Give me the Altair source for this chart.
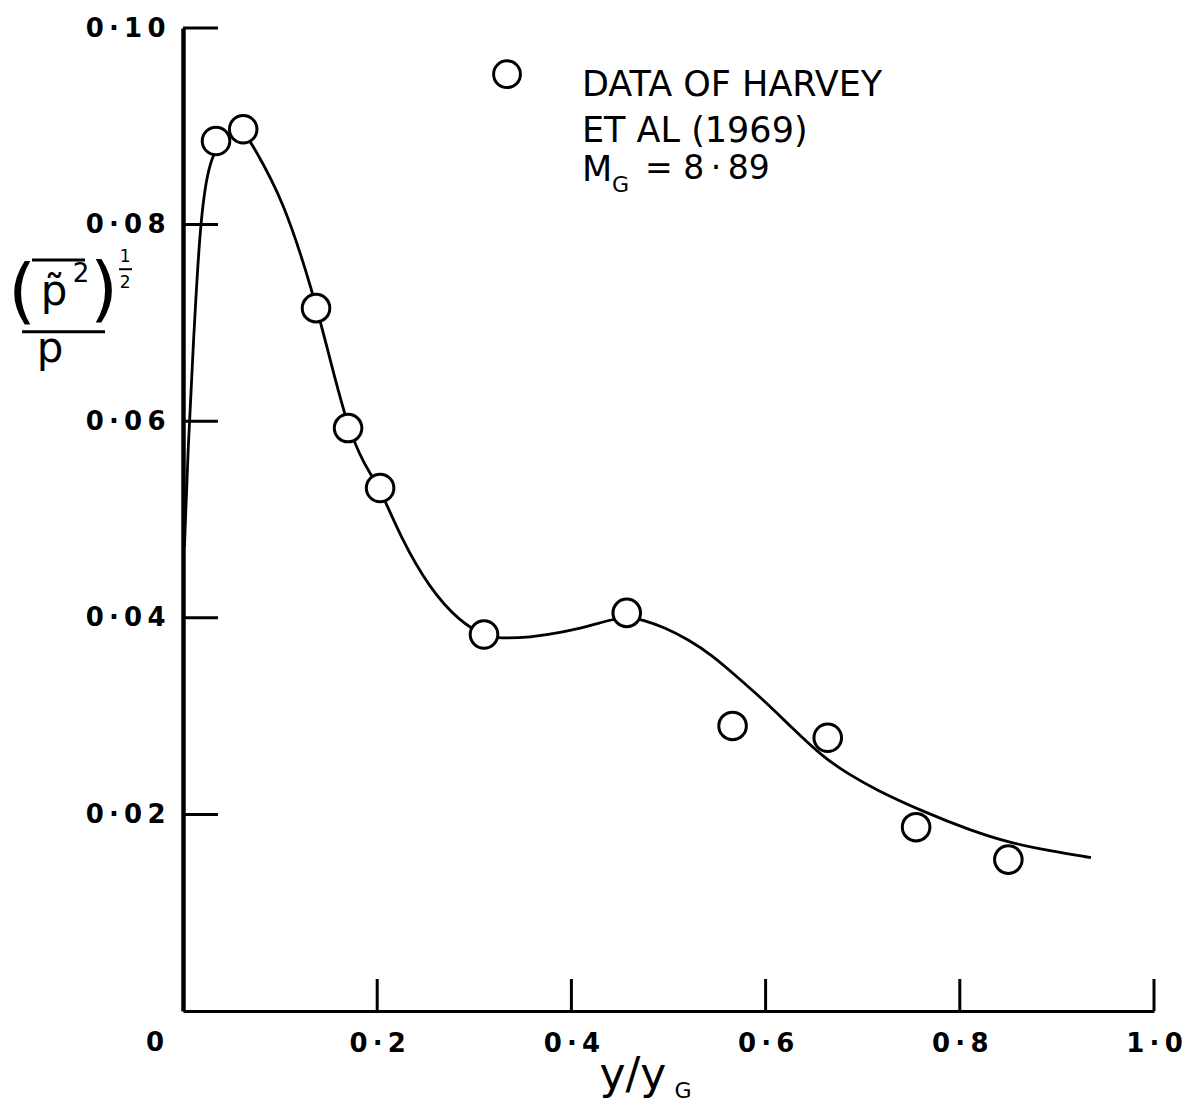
import altair as alt
import pandas as pd

# ---------------- data ----------------
pts_x = [0.034, 0.062, 0.137, 0.170, 0.203, 0.310, 0.457, 0.566, 0.664, 0.755, 0.850]
pts_y = [0.0885, 0.0897, 0.0715, 0.0593, 0.0532, 0.0383, 0.0405, 0.0290, 0.0278, 0.0187, 0.0154]

curve_x = [0.0015, 0.0051, 0.0103, 0.0175, 0.0247, 0.0319, 0.0474, 0.0618, 0.0721, 0.1030,
           0.1339, 0.1514, 0.1699, 0.1864, 0.2029, 0.2235, 0.2544, 0.2853, 0.3100, 0.3254,
           0.3574, 0.3903, 0.4192, 0.4408, 0.4573, 0.4737, 0.4964, 0.5201, 0.5448, 0.5705,
           0.5994, 0.6262, 0.6581, 0.6869, 0.7137, 0.7642, 0.8105, 0.8517, 0.8929, 0.9351]
curve_y = [0.0472, 0.0571, 0.0673, 0.0801, 0.0851, 0.0875, 0.0893, 0.0897, 0.0880, 0.0826,
           0.0731, 0.0663, 0.0593, 0.0556, 0.0532, 0.0483, 0.0429, 0.0396, 0.0382, 0.0379,
           0.0380, 0.0385, 0.0392, 0.0398, 0.0401, 0.0398, 0.0390, 0.0378, 0.0362, 0.0340,
           0.0315, 0.0289, 0.0259, 0.0240, 0.0225, 0.0202, 0.0184, 0.0171, 0.0163, 0.0156]

x_ticks = [0.0, 0.2, 0.4, 0.6, 0.8, 1.0]
x_tick_labels = ["0", "0·2", "0·4", "0·6", "0·8", "1·0"]
y_ticks = [0.02, 0.04, 0.06, 0.08, 0.10]
y_tick_labels = ["0·02", "0·04", "0·06", "0·08", "0·10"]

legend_lines = ["DATA OF HARVEY", "ET AL (1969)", "M", "G", "= 8·89"]
x_title = ["y/y", "G"]

# ---------------- styling ----------------
FONT = "DejaVu Sans"
W, H = 971, 983
THIN = "\u2009"


def hand_spaced(s):
    """Widen the lettering a little, like the hand-drawn labels."""
    return THIN.join(list(s))


def label_expr(ticks, labels, skip_zero=False):
    parts = []
    for t, l in zip(ticks, labels):
        txt = "" if (skip_zero and t == 0) else hand_spaced(l)
        parts.append(f"abs(datum.value - {t}) < 1e-9 ? '{txt}'")
    return " : ".join(parts) + " : ''"


xs = alt.Scale(domain=[0, 1.0], nice=False, zero=False)
ys = alt.Scale(domain=[0, 0.10], nice=False, zero=False)

x_axis = alt.Axis(values=x_ticks, labelExpr=label_expr(x_ticks, x_tick_labels, True),
                  title=None, grid=False, ticks=False, tickSize=0,
                  domainColor="black", domainWidth=3,
                  labelFont=FONT, labelFontSize=26, labelFontWeight="bold",
                  labelColor="black",
                  labelPadding=19, labelFlush=False, labelOverlap=False)
y_axis = alt.Axis(values=y_ticks, labelExpr=label_expr(y_ticks, y_tick_labels),
                  title=None, grid=False, ticks=False, tickSize=0,
                  domainColor="black", domainWidth=4.5,
                  labelFont=FONT, labelFontSize=26, labelFontWeight="bold",
                  labelColor="black",
                  labelPadding=18, labelFlush=False, labelOverlap=False)

X = alt.X("x:Q", scale=xs, axis=x_axis)
Y = alt.Y("y:Q", scale=ys, axis=y_axis)

pts_df = pd.DataFrame({"x": pts_x, "y": pts_y})
curve_df = pd.DataFrame({"x": curve_x, "y": curve_y})

line = alt.Chart(curve_df).mark_line(
    interpolate="basis", color="black", strokeWidth=2.8
).encode(x=X, y=Y)

points = alt.Chart(pts_df).mark_point(
    shape="circle", size=760, fill="white", fillOpacity=1, stroke="black",
    strokeWidth=3, opacity=1
).encode(x=X, y=Y)

# inward tick marks
ytick_df = pd.DataFrame({"y": y_ticks})
yticks = alt.Chart(ytick_df).mark_rule(color="black", strokeWidth=3).encode(
    y=Y, x=alt.value(0), x2=alt.value(35))
xtick_df = pd.DataFrame({"x": x_ticks[1:]})
xticks = alt.Chart(xtick_df).mark_rule(color="black", strokeWidth=3).encode(
    x=X, y=alt.value(H), y2=alt.value(H - 32))

# the "0" at the origin corner
zero_df = pd.DataFrame({"text": [x_tick_labels[0]], "x": [-0.0288], "y": [-0.0033]})
zero_text = alt.Chart(zero_df).mark_text(
    align="center", baseline="middle", font=FONT, fontSize=26, fontWeight="bold",
    color="black").encode(x=X, y=Y, text="text:N")

# legend
leg_pt = alt.Chart(pd.DataFrame({"x": [0.3337], "y": [0.0953]})).mark_point(
    shape="circle", size=720, fill="white", fillOpacity=1, stroke="black",
    strokeWidth=3, opacity=1).encode(x=X, y=Y)
leg_df = pd.DataFrame({
    "text": [legend_lines[0], legend_lines[1], legend_lines[2], legend_lines[3],
             legend_lines[4].replace("·", THIN + "·" + THIN)],
    "x": [0.4109, 0.4109, 0.4109, 0.4418, 0.4758],
    "y": [0.0942, 0.0895, 0.0856, 0.0840, 0.0857],
    "fs": [35, 35, 35, 22, 33],
})
leg_text = alt.Chart(leg_df).mark_text(
    align="left", baseline="middle", font=FONT, color="black"
).encode(x=X, y=Y, text="text:N", size=alt.Size("fs:Q", scale=None, legend=None))

# y-axis title: ( p~^2 )^(1/2) / p
yt_df = pd.DataFrame({
    "text": ["(", ")", "p\u0303", "2", "1", "2", "p"],
    "x": [-0.1658, -0.0814, -0.1329, -0.1050, -0.0597, -0.0597, -0.1370],
    "y": [0.0730, 0.0732, 0.0731, 0.0750, 0.0767, 0.0741, 0.0673],
    "fs": [72, 72, 42, 26, 17, 17, 42],
})
yt_text = alt.Chart(yt_df).mark_text(
    align="center", baseline="middle", font=FONT, color="black"
).encode(x=X, y=Y, text="text:N", size=alt.Size("fs:Q", scale=None, legend=None))

bars_df = pd.DataFrame({
    "x": [-0.1555, -0.1658, -0.0659],
    "x2": [-0.1009, -0.0803, -0.0525],
    "y": [0.0764, 0.0691, 0.07546],
    "w": [3, 3, 2],
})
bars = alt.Chart(bars_df).mark_rule(color="black").encode(
    x=X, x2="x2:Q", y=Y, strokeWidth=alt.StrokeWidth("w:Q", scale=None, legend=None))

# x-axis title y/y_G
xt_df = pd.DataFrame({
    "text": x_title,
    "x": [0.4634, 0.5150],
    "y": [-0.0066, -0.0081],
    "fs": [44, 22],
})
xt_text = alt.Chart(xt_df).mark_text(
    align="center", baseline="middle", font=FONT, color="black"
).encode(x=X, y=Y, text="text:N", size=alt.Size("fs:Q", scale=None, legend=None))

chart = alt.layer(
    xticks, yticks, line, points, leg_pt, leg_text, yt_text, zero_text, bars, xt_text
).properties(
    width=W, height=H,
    autosize=alt.AutoSizeParams(type="none"),
    padding={"left": 175, "top": 20, "right": 30, "bottom": 92},
    background="white",
).configure_view(strokeOpacity=0)

chart.save("out.html", embed_options={"renderer": "svg", "actions": False})
